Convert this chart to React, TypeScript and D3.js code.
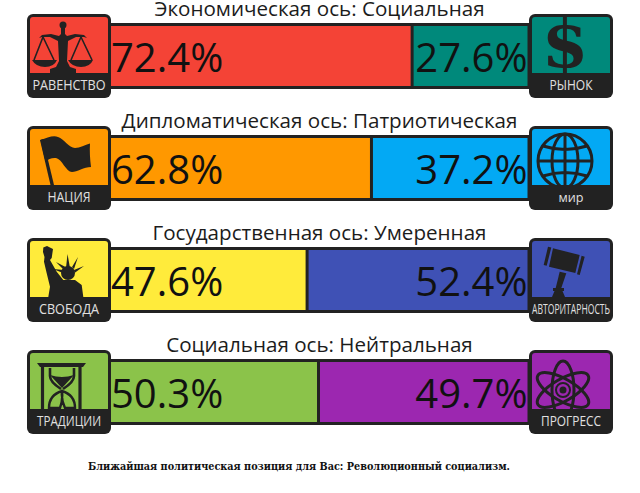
import React from "react";
import * as d3 from "d3";

const axisTitles = [
  "Экономическая ось: Социальная",
  "Дипломатическая ось: Патриотическая",
  "Государственная ось: Умеренная",
  "Социальная ось: Нейтральная",
];
const leftValues = [72.4, 62.8, 47.6, 50.3];
const rightValues = [27.6, 37.2, 52.4, 49.7];
const leftLabels = ["РАВЕНСТВО", "НАЦИЯ", "СВОБОДА", "ТРАДИЦИИ"];
const rightLabels = ["РЫНОК", "МИР", "АВТОРИТАРНОСТЬ", "ПРОГРЕСС"];
const leftColors = ["#f44336", "#ff9800", "#ffeb3b", "#8bc34a"];
const rightColors = ["#00897b", "#03a9f4", "#3f51b5", "#9c27b0"];
const labelWidths = [73, 43, 60, 64];
const rightLabelWidths = [43, 25, 78, 60];
const footer = "Ближайшая политическая позиция для Вас: Революционный социализм.";

const DARK = "#222222";
const SANS = "'Open Sans', 'Noto Sans', sans-serif";

const x = d3.scaleLinear().domain([0, 100]).range([105.5, 529]);
const y = d3.scaleLinear().domain([0, 3]).range([14, 350]);

function Scales() {
  return (
    <g fill={DARK} stroke={DARK}>
      <circle cx={36} cy={11} r={3.5} stroke="none" />
      <path d="M34 14h4v6l2 2 8-2 9 1 3 3-3-1-8 0-8 4-1 20 3 6 6 2v4H23v-4l6-2 3-6-1-20-8-4-8 0-3 1 3-3 9-1 8 2 2-2z" stroke="none" />
      <path d="M16 23L7 46M16 23L27 46M54 23L44 46M54 23L65 46" fill="none" strokeWidth={1.6} />
      <path d="M5 46h25q-3 7-12 7t-13-7zM41 46h25q-3 7-12 7t-13-7z" stroke="none" />
    </g>
  );
}
function Dollar() {
  return (
    <text x={36} y={53} textAnchor="middle" fontFamily="'DejaVu Serif', serif" fontWeight={700} fontSize={67} fill={DARK}>$</text>
  );
}
function Flag() {
  return (
    <g fill={DARK}>
      <path d="M13.5 14C20 12 26 9 31 11C37 13 42 22 48 22C53 22 58 19 63 17.5C62.5 25 63 33 64 41C57 41 50 46 45 46C39 46 35 33 29 32C25 31.5 21 33 18.5 36z" />
      <path d="M13 14L16 13L27 59H23.5z" />
    </g>
  );
}
function Globe() {
  return (
    <g fill="none" stroke={DARK} strokeWidth={3}>
      <circle cx={36} cy={35} r={27} />
      <ellipse cx={36} cy={35} rx={13} ry={27} />
      <path d="M36 8V62M9 35H63M14 20Q36 27 58 20M14 50Q36 43 58 50" />
    </g>
  );
}
function Liberty() {
  return (
    <g fill={DARK}>
      <path d="M16.3 9.5L20 8L26 11L24.7 20L23 22L29.7 33.7L36.3 42L44.7 42L48 42L54.7 47L56.3 59H21.3L23 48.7L19.7 35.3L17 23.7L17.5 19L16 14z" />
      <circle cx={41} cy={35} r={7} />
      <path d="M39 30L40.5 16L43 30zM36 31L29 24L38.5 29zM45 29L51 19L47 31zM47 32L57 28L47.5 35zM36 35L26 31L37 32z" />
    </g>
  );
}
function Gavel() {
  return (
    <g fill={DARK}>
      <path d="M19 8.7L22.3 9.6L17.7 27.8L14.7 27zM52.6 17.8L55.7 18.7L50.7 37L48 36.2z" />
      <path d="M24 10.3L50.7 17L46.3 35L20 28.7z" />
      <path d="M30.7 33.7L37.3 35.3L32.3 50L26.7 50z" />
      <path d="M24 50H35V53H33.5L36 59H23L25.5 53H24z" />
    </g>
  );
}
function Hourglass() {
  return (
    <g fill="none" stroke={DARK}>
      <path d="M10 13H59L56 17H13z" fill={DARK} stroke="none" />
      <path d="M15.5 17V59M53 17V59" strokeWidth={3.2} />
      <path d="M23 18V26Q23 32 34 39M47 18V26Q47 32 36 39" strokeWidth={2.6} />
      <path d="M23 25Q35 29 47 25L35 38z" fill={DARK} stroke="none" />
      <path d="M35 41Q22 45 22 58H33Q36 50 35 41zM35 41Q48 45 48 58H38Q34 50 35 41z" strokeWidth={2.4} />
    </g>
  );
}
function Atom() {
  return (
    <g fill="none" stroke={DARK} strokeWidth={3}>
      <ellipse cx={34} cy={40} rx={29} ry={11} transform="rotate(90 34 40)" />
      <ellipse cx={34} cy={40} rx={29} ry={11} transform="rotate(30 34 40)" />
      <ellipse cx={34} cy={40} rx={29} ry={11} transform="rotate(-30 34 40)" />
      <circle cx={34} cy={40} r={7} strokeWidth={2} />
      <circle cx={34} cy={40} r={3.5} fill={DARK} stroke="none" />
    </g>
  );
}

const leftIcons = [Scales, Flag, Liberty, Hourglass];
const rightIcons = [Dollar, Globe, Gavel, Atom];

function Badge({ bx, by, color, label, width, Icon, id }: any) {
  return (
    <g transform={`translate(${bx},${by})`}>
      <rect x={0} y={0} width={84} height={84} rx={6} fill={DARK} />
      <clipPath id={id}>
        <path d="M3 59V6a3 3 0 0 1 3-3H78a3 3 0 0 1 3 3V59z" />
      </clipPath>
      <path d="M3 59V6a3 3 0 0 1 3-3H78a3 3 0 0 1 3 3V59z" fill={color} />
      <g clipPath={`url(#${id})`}><Icon /></g>
      <text x={42} y={75.5} textAnchor="middle" fontFamily={SANS} fontSize={label === "МИР" ? 13 : 14} fill="#e0e0e0" textLength={width} lengthAdjust="spacingAndGlyphs">
        {label === "МИР" ? "мир" : label}
      </text>
    </g>
  );
}

export default function App() {
  return (
    <svg width={640} height={493} viewBox="0 0 640 493" style={{ position: "absolute", left: 0, top: 0, background: "#fff" }}>
      {axisTitles.map((title, i) => {
        const top = y(i);
        const mid = x(leftValues[i]);
        return (
          <g key={title}>
            <text x={319.5} y={top + 1.5} textAnchor="middle" fontFamily={SANS} fontSize={20.6} fill="#1c1c1c">{title}</text>
            <rect x={x(0)} y={top + 10.5} width={mid - x(0)} height={63} fill={leftColors[i]} />
            <rect x={mid} y={top + 10.5} width={x(100) - mid} height={63} fill={rightColors[i]} />
            <rect x={x(0)} y={top + 10.5} width={x(100) - x(0)} height={63} fill="none" stroke={DARK} strokeWidth={3} />
            <line x1={mid} x2={mid} y1={top + 10.5} y2={top + 73.5} stroke={DARK} strokeWidth={3} />
            <text x={111} y={top + 58} fontFamily={SANS} fontSize={40} fill="#111">{leftValues[i].toFixed(1)}%</text>
            <text x={527.5} y={top + 58} textAnchor="end" fontFamily={SANS} fontSize={40} fill="#111">{rightValues[i].toFixed(1)}%</text>
            <Badge bx={27} by={top} color={leftColors[i]} label={leftLabels[i]} width={labelWidths[i]} Icon={leftIcons[i]} id={`l${i}`} />
            <Badge bx={529} by={top} color={rightColors[i]} label={rightLabels[i]} width={rightLabelWidths[i]} Icon={rightIcons[i]} id={`r${i}`} />
          </g>
        );
      })}
      <text x={88} y={470} fontFamily="'DejaVu Serif', serif" fontWeight={700} fontSize={10.5} fill="#111" textLength={422} lengthAdjust="spacingAndGlyphs">{footer}</text>
    </svg>
  );
}
